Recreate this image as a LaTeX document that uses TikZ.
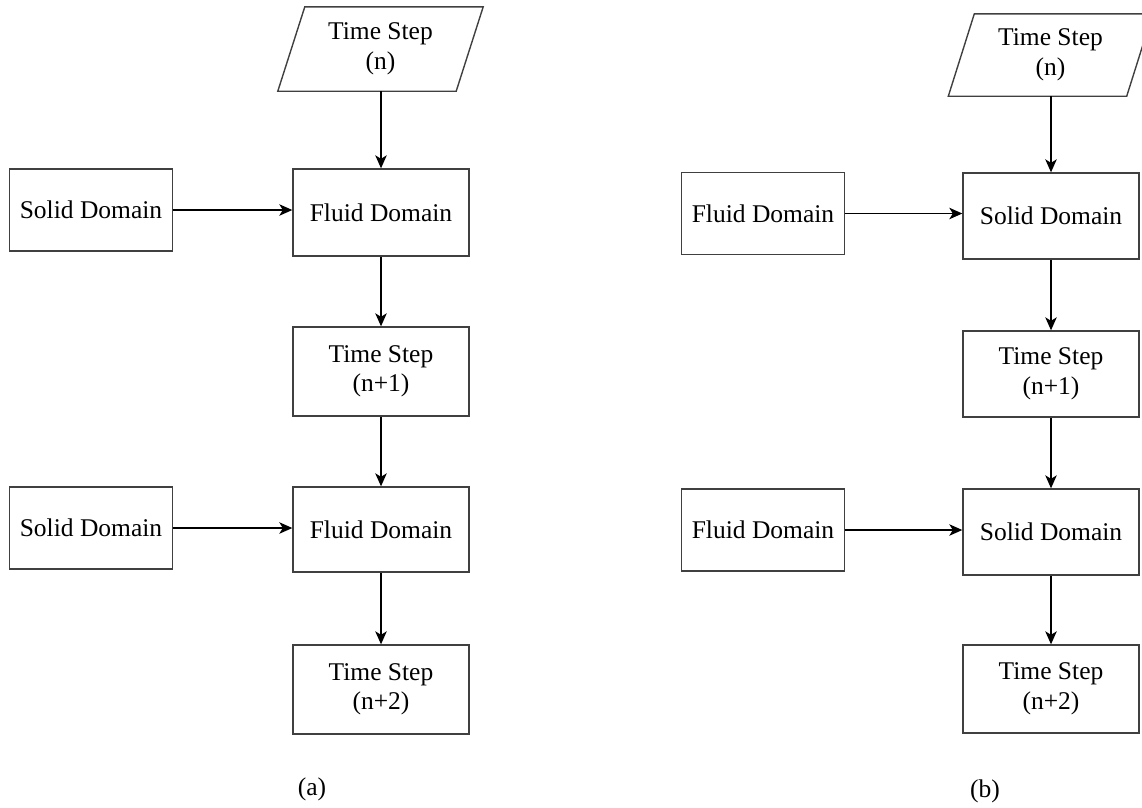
\documentclass[tikz,border=0pt]{standalone}
\usepackage{fontspec}
\setmainfont{Liberation Serif}
\usetikzlibrary{arrows.meta,calc}
\begin{document}
\begin{tikzpicture}[x=1pt,y=-1pt,
  txt/.style={inner sep=0pt, align=center, font=\fontsize{25.5}{29.5}\selectfont},
  box/.style={txt, draw=black!75, line width=1.4pt},
  wide/.style={minimum width=176, minimum height=#1},
  narrow/.style={minimum width=163, minimum height=82},
  flow/.style={draw=black, line width=1.3pt, -{Stealth[length=13pt,width=11.5pt,inset=3.5pt]}},
  slanted/.style={draw=black!75, line width=1.4pt, line join=miter},
  caption/.style={inner sep=0pt, font=\fontsize{25.5}{29}\selectfont}]
\useasboundingbox (0,0) rectangle (1142,807);
\clip (0,0) rectangle (1142,807);

% ---------- (a): fluid domain driven by the solid domain ----------
\node[txt, minimum width=178, minimum height=84] (pa) at (380.5,49) {Time Step\\(n)};
\draw[slanted] ($(pa.south west)+(-13.5,0)$) -- ($(pa.south east)+(-13.5,0)$)
  -- ($(pa.north east)+(13.5,0)$) -- ($(pa.north west)+(13.5,0)$) -- cycle;
\node[box, wide=87] (fa1) at (381,212.5) {Fluid Domain};
\node[box, narrow] (sa1) at (91,210) {Solid Domain};
\node[box, wide=89] (ta1) at (381,371.5) {Time Step\\(n+1)};
\node[box, wide=85] (fa2) at (381,529.5) {Fluid Domain};
\node[box, narrow] (sa2) at (91,528) {Solid Domain};
\node[box, wide=89] (ta2) at (381,689.5) {Time Step\\(n+2)};
\node[caption] (capa) at (312,789) {(a)};

\draw[flow] (fa1.north |- pa.south) -- (fa1.north);
\draw[flow] (sa1.east) -- (sa1.east -| fa1.west);
\draw[flow] (fa1.south) -- (ta1.north);
\draw[flow] (ta1.south) -- (fa2.north);
\draw[flow] (sa2.east) -- (sa2.east -| fa2.west);
\draw[flow] (fa2.south) -- (ta2.north);

% ---------- (b): solid domain driven by the fluid domain ----------
\node[txt, minimum width=178, minimum height=82] (pb) at (1050.5,55) {Time Step\\(n)};
\draw[slanted] ($(pb.south west)+(-13,0)$) -- ($(pb.south east)+(-13,0)$)
  -- ($(pb.north east)+(13,0)$) -- ($(pb.north west)+(13,0)$) -- cycle;
\node[box, wide=86] (sb1) at (1051,216) {Solid Domain};
\node[box, narrow] (fb1) at (763,213.5) {Fluid Domain};
\node[box, wide=86] (tb1) at (1051,374) {Time Step\\(n+1)};
\node[box, wide=86] (sb2) at (1051,532) {Solid Domain};
\node[box, narrow] (fb2) at (763,530) {Fluid Domain};
\node[box, wide=88] (tb2) at (1051,689) {Time Step\\(n+2)};
\node[caption] (capb) at (985,791) {(b)};

\draw[flow] (sb1.north |- pb.south) -- (sb1.north);
\draw[flow] (fb1.east) -- (fb1.east -| sb1.west);
\draw[flow] (sb1.south) -- (tb1.north);
\draw[flow] (tb1.south) -- (sb2.north);
\draw[flow] (fb2.east) -- (fb2.east -| sb2.west);
\draw[flow] (sb2.south) -- (tb2.north);
\end{tikzpicture}
\end{document}
